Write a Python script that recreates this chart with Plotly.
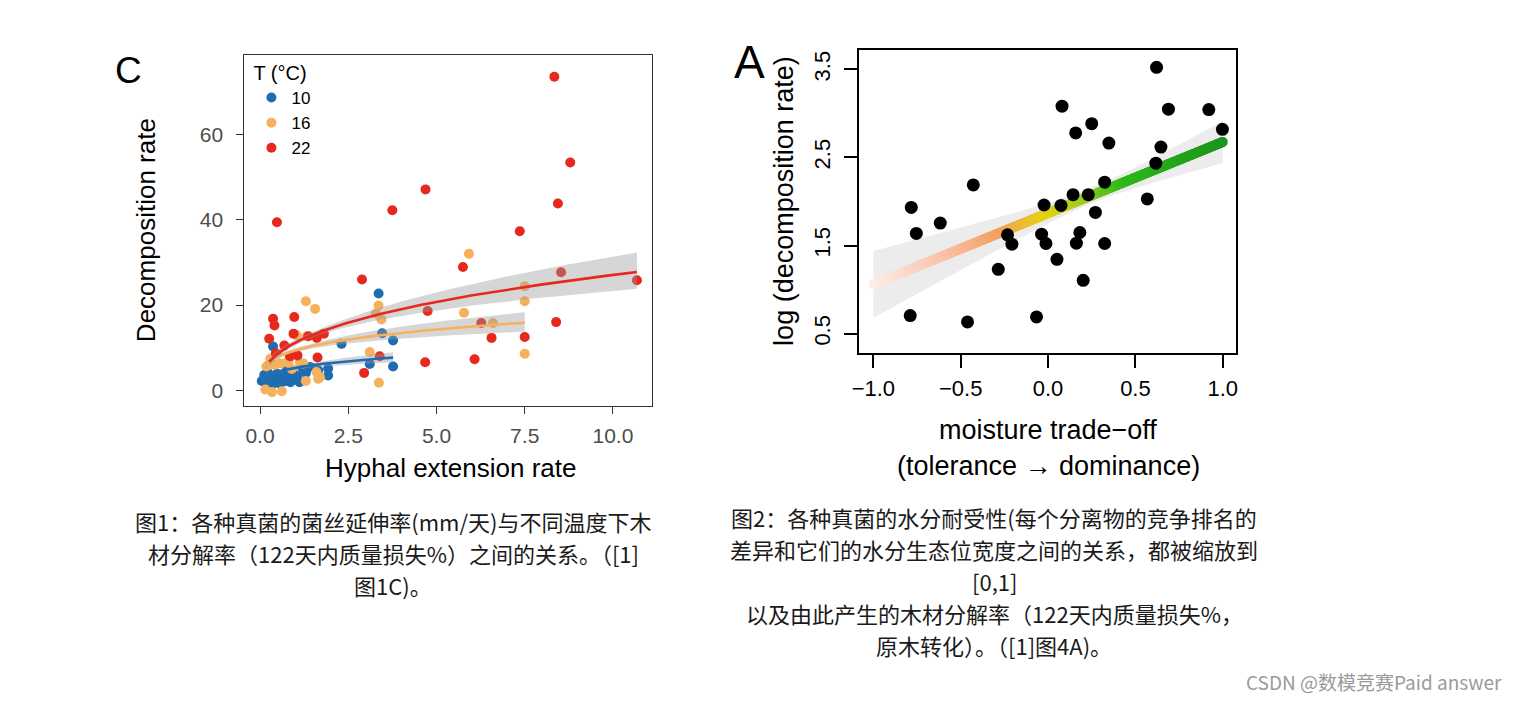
import numpy as np
import plotly.graph_objects as go

# page body has an 8px margin: the figure is placed at (8, 8) and sized to end at the window edge
OFF = 8
W, H = 1520 - OFF, 701 - OFF

# ---------------- Panel C: hyphal extension vs decomposition ----------------
temps = ["10", "16", "22"]
temp_colors = ["#1f6db1", "#f6b15c", "#e6291d"]

x10 = [0.05, 0.12, 0.18, 0.22, 0.28, 0.33, 0.36, 0.37, 0.42, 0.48, 0.55, 0.60, 0.68, 0.75,
       0.80, 0.86, 0.92, 1.00, 1.05, 1.12, 1.20, 1.30, 1.42, 1.65, 1.93, 1.93, 2.31, 3.11,
       3.36, 3.46, 3.77, 3.77]
y10 = [2.2, 3.6, 1.6, 4.1, 2.6, 1.3, 3.4, 10.3, 2.1, 3.9, 1.6, 2.9, 2.1, 4.5,
       3.1, 1.9, 4.1, 2.6, 3.4, 1.9, 5.2, 4.1, 5.5, 4.7, 5.1, 3.5, 10.9, 6.2,
       22.7, 13.4, 11.7, 5.6]

x16 = [0.15, 0.34, 0.62, 0.18, 0.24, 0.29, 0.42, 0.57, 0.76, 0.82, 0.90, 1.04, 1.32, 1.30,
       1.56, 1.13, 1.23, 1.30, 1.65, 1.60, 1.70, 3.11, 3.37, 3.28, 3.44, 3.36, 5.78, 5.92,
       6.60, 7.50, 7.50, 7.50]
y16 = [0.2, -0.4, -0.2, 5.6, 5.9, 7.4, 6.0, 6.3, 6.6, 7.0, 5.0, 12.9, 12.7, 20.9,
       19.1, 6.5, 6.3, 2.2, 2.7, 4.3, 3.1, 9.0, 1.8, 18.0, 16.6, 19.9, 18.2, 32.0,
       15.8, 24.4, 20.9, 8.6]

x22 = [8.34, 8.79, 4.69, 8.44, 3.75, 0.48, 7.36, 5.75, 8.53, 2.89, 10.68, 4.75, 6.27, 8.39,
       0.37, 0.41, 0.97, 0.26, 1.37, 1.61, 1.81, 6.56, 7.50, 0.69, 0.45, 0.85, 1.06, 1.63,
       3.39, 4.68, 6.08, 2.95, 0.95]
y22 = [73.5, 53.4, 47.1, 43.8, 42.2, 39.4, 37.3, 28.9, 27.7, 26.0, 25.8, 18.6, 15.8, 16.0,
       16.8, 15.2, 17.2, 12.1, 12.7, 12.3, 13.3, 12.3, 12.5, 10.5, 8.7, 8.0, 8.2, 7.7,
       8.0, 6.6, 7.3, 4.1, 13.3]

# power-law smoother: y = a * x^b, band in log space
fit_a = [5.3, 9.4, 11.2]
fit_b = [0.28, 0.26, 0.383]
fit_m = [-0.36, 0.0, 0.4]
fit_s0 = [0.06, 0.05, 0.05]
fit_s1 = [0.082, 0.066, 0.073]

c_xticks = [0, 2.5, 5, 7.5, 10]
c_xticktext = ["0.0", "2.5", "5.0", "7.5", "10.0"]
c_yticks = [0, 20, 40, 60]

# ---------------- Panel A: moisture trade-off vs log decomposition ----------------
mx = [-0.783, -0.754, -0.789, -0.617, -0.428, -0.461, -0.285, -0.232, -0.207, -0.066,
      -0.037, -0.012, -0.023, 0.051, 0.074, 0.080, 0.143, 0.158, 0.162, 0.182,
      0.201, 0.230, 0.250, 0.271, 0.324, 0.324, 0.348, 0.568, 0.617, 0.621,
      0.646, 0.689, 0.920, 0.998]
my = [1.933, 1.637, 0.705, 1.755, 2.188, 0.633, 1.230, 1.622, 1.515, 0.690,
      1.629, 1.523, 1.960, 1.344, 1.956, 3.082, 2.078, 2.778, 1.527, 1.648,
      1.105, 2.078, 2.884, 1.876, 2.219, 1.523, 2.663, 2.029, 2.435, 3.523,
      2.618, 3.048, 3.044, 2.819]

lm_intercept = 1.867
lm_slope = 0.808
lm_se_centre = 0.25
lm_se0 = 0.09
lm_se1 = 0.295

a_xticks = [-1.0, -0.5, 0.0, 0.5, 1.0]
a_xticktext = ["\u22121.0", "\u22120.5", "0.0", "0.5", "1.0"]
a_yticks = [0.5, 1.5, 2.5, 3.5]

gradient = [[0.0, "rgb(253,238,234)"], [0.2, "rgb(250,196,172)"], [0.37, "rgb(243,160,92)"],
            [0.5, "rgb(230,212,18)"], [0.6, "rgb(160,205,30)"], [0.72, "rgb(45,186,25)"],
            [1.0, "rgb(28,150,28)"]]

caption1 = ["图1：各种真菌的菌丝延伸率(mm/天)与不同温度下木",
            "材分解率（122天内质量损失%）之间的关系。（[1]",
            "图1C)。"]
caption2 = ["图2：各种真菌的水分耐受性(每个分离物的竞争排名的",
            "差异和它们的水分生态位宽度之间的关系，都被缩放到",
            "[0,1]",
            "以及由此产生的木材分解率（122天内质量损失%，",
            "原木转化）。（[1]图4A)。"]

# ---------------- build figure ----------------
fig = go.Figure()

series = [(x10, y10), (x16, y16), (x22, y22)]
for (xs, ys), name, col in zip(series, temps, temp_colors):
    fig.add_trace(go.Scatter(x=xs, y=ys, mode="markers", name=name,
                             marker=dict(size=10, color=col, line=dict(width=0)),
                             xaxis="x", yaxis="y"))

for i, ((xs, ys), col) in enumerate(zip(series, temp_colors)):
    xf = np.linspace(min(xs), max(xs), 200)
    yf = fit_a[i] * xf ** fit_b[i]
    se = np.sqrt(fit_s0[i] ** 2 + fit_s1[i] ** 2 * (np.log(xf) - fit_m[i]) ** 2)
    lo = yf * np.exp(-se)
    hi = yf * np.exp(se)
    fig.add_trace(go.Scatter(x=np.concatenate([xf, xf[::-1]]), y=np.concatenate([hi, lo[::-1]]),
                             fill="toself", fillcolor="rgba(153,153,153,0.4)",
                             line=dict(width=0), mode="lines", hoverinfo="skip",
                             showlegend=False, xaxis="x", yaxis="y"))
    fig.add_trace(go.Scatter(x=xf, y=yf, mode="lines", line=dict(color=col, width=2.6),
                             showlegend=False, xaxis="x", yaxis="y"))

# panel A
xl = np.linspace(-1.0, 1.0, 200)
yl = lm_intercept + lm_slope * xl
sel = np.sqrt(lm_se0 ** 2 + lm_se1 ** 2 * (xl - lm_se_centre) ** 2)
fig.add_trace(go.Scatter(x=np.concatenate([xl, xl[::-1]]),
                         y=np.concatenate([yl + sel, (yl - sel)[::-1]]),
                         fill="toself", fillcolor="rgba(200,200,200,0.35)",
                         line=dict(width=0), mode="lines", hoverinfo="skip",
                         showlegend=False, xaxis="x2", yaxis="y2"))
xg = np.linspace(-1.0, 1.0, 500)
fig.add_trace(go.Scatter(x=xg, y=lm_intercept + lm_slope * xg, mode="markers",
                         marker=dict(size=10, color=xg, colorscale=gradient, cmin=-1, cmax=1,
                                     line=dict(width=0)),
                         showlegend=False, hoverinfo="skip", xaxis="x2", yaxis="y2"))
fig.add_trace(go.Scatter(x=mx, y=my, mode="markers",
                         marker=dict(size=13, color="black", line=dict(width=0)),
                         showlegend=False, xaxis="x2", yaxis="y2"))

FONT = "Liberation Sans, Arial, sans-serif"
CJK = "Noto Sans CJK SC, sans-serif"

def py(p):
    return 1 - (p - OFF) / H

def px(p):
    return (p - OFF) / W

annotations = []
def ann(text, x, y, size, color="black", angle=0, xanchor="center", family=FONT):
    annotations.append(dict(text=text, x=px(x), y=py(y), xref="paper", yref="paper",
                            showarrow=False, textangle=angle, xanchor=xanchor,
                            yanchor="middle", borderpad=0,
                            font=dict(family=family, size=size, color=color)))

ann("C", 121, 70, 37)
ann("A", 746, 62, 46)
ann("Decomposition rate", 139, 230, 26, angle=-90)
ann("Hyphal extension rate", 445, 468, 26)
ann("log (decomposition rate)", 781, 201, 27, angle=-90)
ann("moisture trade\u2212off", 1047, 430, 27)
ann("(tolerance \u2192 dominance)", 1047, 466, 27)

CAP_SIZE = 22
CAP_GAP = 32
for k, t in enumerate(caption1):
    ann(t, 388, 553 + (k - (len(caption1) - 1) / 2) * CAP_GAP, CAP_SIZE,
        color="#1a1a1a", family=CJK)
for k, t in enumerate(caption2):
    ann(t, 993, 581 + (k - (len(caption2) - 1) / 2) * CAP_GAP, CAP_SIZE,
        color="#1a1a1a", family=CJK)
ann("CSDN @数模竞赛Paid answer", 1505, 681, 19, color="#9a9a9a", xanchor="right", family=CJK)

fig.update_layout(
    width=W, height=H, autosize=False,
    margin=dict(l=0, r=0, t=0, b=0),
    paper_bgcolor="white", plot_bgcolor="white",
    font=dict(family=FONT),
    showlegend=True,
    legend=dict(x=px(245), y=py(54), xanchor="left", yanchor="top",
                bgcolor="rgba(0,0,0,0)", borderwidth=0,
                title=dict(text="T (°C)", font=dict(size=20, color="black")),
                font=dict(size=17, color="black"), itemsizing="trace", tracegroupgap=0),
    xaxis=dict(domain=[px(238), px(648)], range=[-0.44, 11.1], tickvals=c_xticks,
               ticktext=c_xticktext, showline=True, mirror=True, linecolor="#333333",
               linewidth=1.3, ticks="outside", ticklen=7, tickwidth=1.3, tickcolor="#333333",
               tickfont=dict(size=21, color="#4d4d4d"), ticklabelstandoff=4,
               showgrid=False, zeroline=False, anchor="y"),
    yaxis=dict(domain=[py(406), py(55)], range=[-3.66, 78.6], tickvals=c_yticks,
               showline=True, mirror=True, linecolor="#333333", linewidth=1.3,
               ticks="outside", ticklen=7, tickwidth=1.3, tickcolor="#333333",
               tickfont=dict(size=21, color="#4d4d4d"), ticklabelstandoff=9,
               showgrid=False, zeroline=False, anchor="x"),
    xaxis2=dict(domain=[px(857), px(1236)], range=[-1.08, 1.075], tickvals=a_xticks,
                ticktext=a_xticktext, showline=True, mirror=True, linecolor="black",
                linewidth=2, ticks="outside", ticklen=13, tickwidth=2, tickcolor="black",
                tickfont=dict(size=22, color="black"), ticklabelstandoff=2,
                showgrid=False, zeroline=False, anchor="y2"),
    yaxis2=dict(domain=[py(353), py(50)], range=[0.28, 3.72], tickvals=a_yticks,
                ticktext=["0.5", "1.5", "2.5", "3.5"], tickangle=-90,
                showline=True, mirror=True, linecolor="black", linewidth=2,
                ticks="outside", ticklen=13, tickwidth=2, tickcolor="black",
                tickfont=dict(size=22, color="black"), ticklabelstandoff=6,
                showgrid=False, zeroline=False, anchor="x2"),
    annotations=annotations,
)

fig.write_html("out.html")
